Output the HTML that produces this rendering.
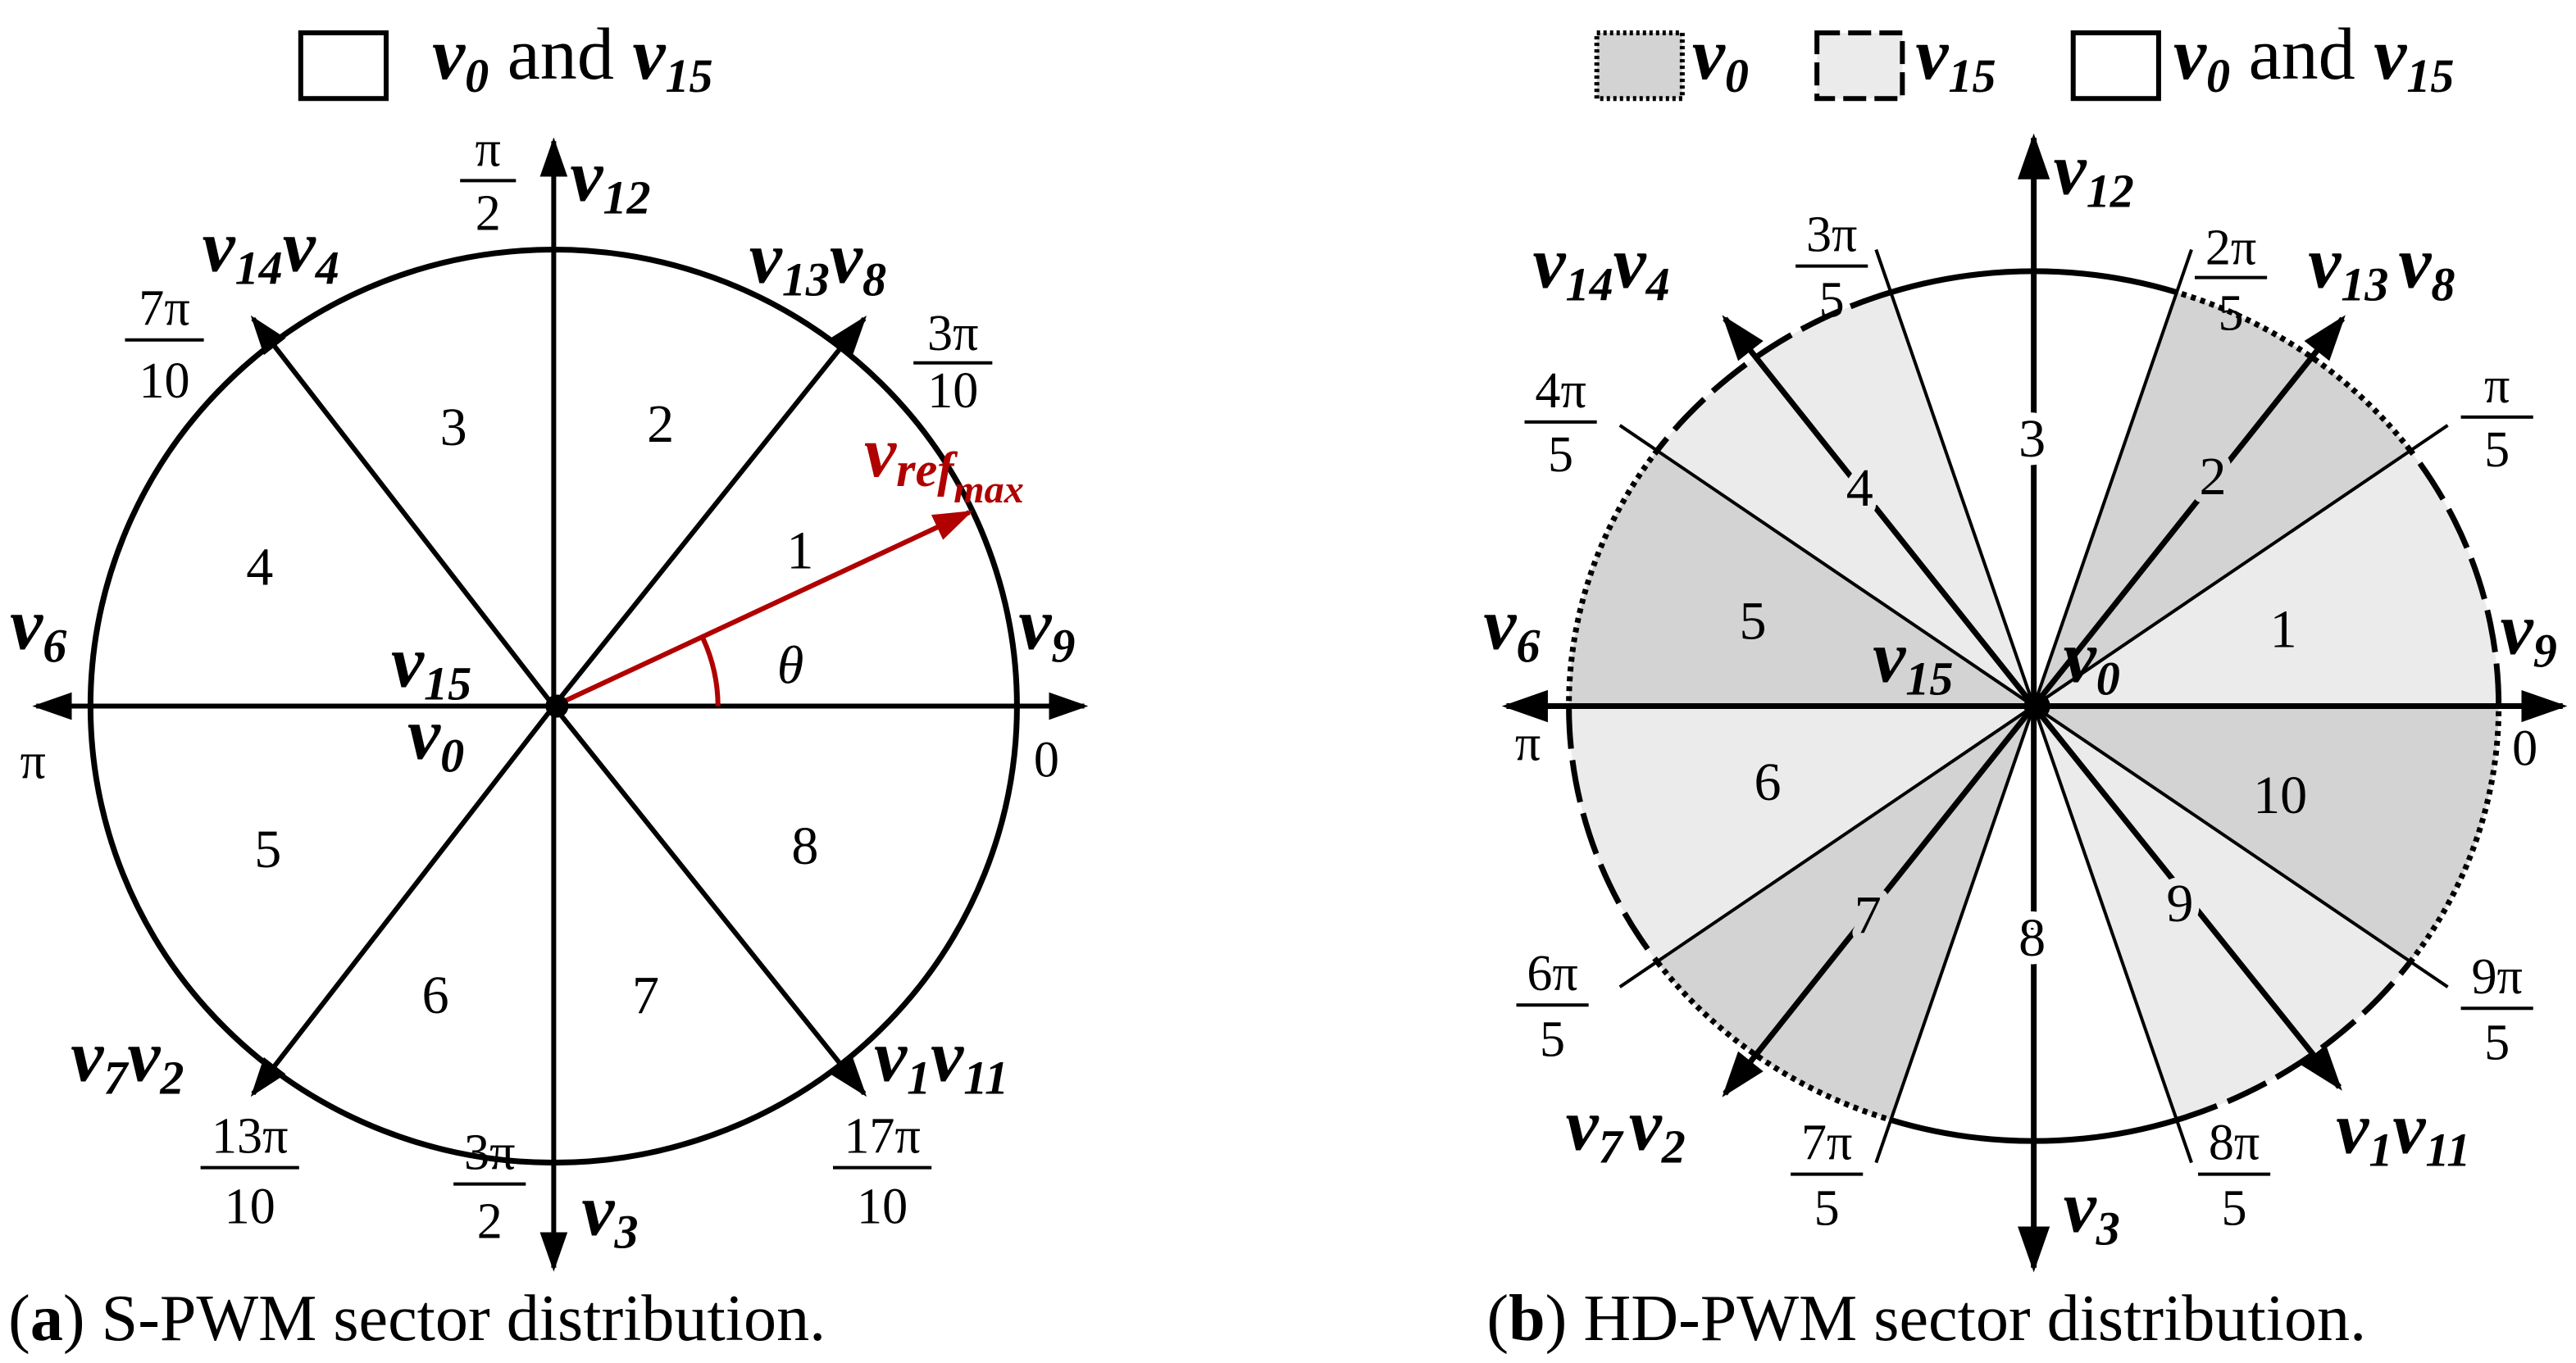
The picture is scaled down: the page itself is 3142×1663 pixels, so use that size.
<!DOCTYPE html>
<html><head><meta charset="utf-8"><style>
html,body{margin:0;padding:0;background:#fff;}
svg{display:block;}
text{font-family:"Liberation Serif",serif;fill:#000;}
.v{font-weight:bold;font-style:italic;font-size:45px;}
.s{font-size:29px;}
.n{font-size:33px;text-anchor:middle;}
.f{font-size:31px;text-anchor:middle;}
.cap{font-size:40px;}
</style></head><body>
<svg width="3142" height="1663" viewBox="0 0 1568 830" xmlns="http://www.w3.org/2000/svg">
<defs>
<marker id="ah" viewBox="0 0 10 10" refX="9" refY="5" markerWidth="8" markerHeight="8" markerUnits="strokeWidth" orient="auto"><path d="M0,1.5 L10,5 L0,8.5 Z" fill="#000"/></marker>
<marker id="ahr" viewBox="0 0 10 10" refX="9" refY="5" markerWidth="9" markerHeight="8" markerUnits="strokeWidth" orient="auto"><path d="M0,1.5 L10,5 L0,8.5 Z" fill="#b00000"/></marker>
</defs>

<rect x="183" y="20" width="52" height="40" fill="#fff" stroke="#000" stroke-width="3"/>
<text x="263" y="48" class="v">v<tspan class="s" dy="8">0</tspan><tspan dy="-8" style="font-weight:normal;font-style:normal"> and </tspan>v<tspan class="s" dy="8">15</tspan></text>

<rect x="972" y="20" width="52" height="40" fill="#d3d3d3" stroke="#000" stroke-width="3" stroke-dasharray="2,2"/>
<text x="1030" y="48" class="v">v<tspan class="s" dy="8">0</tspan></text>
<rect x="1106" y="20" width="52" height="40" fill="#ebebeb" stroke="#000" stroke-width="3" stroke-dasharray="14,5"/>
<text x="1166" y="48" class="v">v<tspan class="s" dy="8">15</tspan></text>
<rect x="1262" y="20" width="52" height="40" fill="#fff" stroke="#000" stroke-width="3"/>
<text x="1323" y="48" class="v">v<tspan class="s" dy="8">0</tspan><tspan dy="-8" style="font-weight:normal;font-style:normal"> and </tspan>v<tspan class="s" dy="8">15</tspan></text>

<!-- LEFT -->
<ellipse cx="337" cy="430" rx="282" ry="278" fill="none" stroke="#000" stroke-width="3.5"/>
<g stroke="#000" stroke-width="3" marker-end="url(#ah)">
<line x1="337" y1="430" x2="22" y2="430"/>
<line x1="337" y1="430" x2="660" y2="430"/>
<line x1="337" y1="430" x2="337" y2="86"/>
<line x1="337" y1="430" x2="337" y2="772"/>
<line x1="337" y1="430" x2="526" y2="194"/>
<line x1="337" y1="430" x2="154" y2="194"/>
<line x1="337" y1="430" x2="154" y2="666"/>
<line x1="337" y1="430" x2="526" y2="666"/>
</g>
<line x1="337" y1="430" x2="590" y2="312" stroke="#b00000" stroke-width="3" marker-end="url(#ahr)"/>
<path d="M437,430 A100,100 0 0 0 428,389" fill="none" stroke="#b00000" stroke-width="3"/>
<circle cx="339" cy="430" r="7" fill="#000"/>
<text class="n" x="276" y="271">3</text>
<text class="n" x="402" y="269">2</text>
<text class="n" x="158" y="356">4</text>
<text class="n" x="487" y="346">1</text>
<text class="n" x="163" y="528">5</text>
<text class="n" x="490" y="526">8</text>
<text class="n" x="265" y="617">6</text>
<text class="n" x="393" y="617">7</text>
<text x="473" y="416" style="font-size:33px;font-style:italic">θ</text>

<text class="f" x="297" y="101">π</text><line x1="280" y1="110" x2="314" y2="110" stroke="#000" stroke-width="2"/><text class="f" x="297" y="140">2</text>
<text class="v" x="347" y="122">v<tspan class="s" dy="8">12</tspan></text>
<text class="v" x="123" y="165">v<tspan class="s" dy="8">14</tspan><tspan dy="-8">v</tspan><tspan class="s" dy="8">4</tspan></text>
<text class="f" x="100" y="198">7π</text><line x1="76" y1="207" x2="124" y2="207" stroke="#000" stroke-width="2"/><text class="f" x="100" y="242">10</text>
<text class="v" x="456" y="172">v<tspan class="s" dy="8">13</tspan><tspan dy="-8">v</tspan><tspan class="s" dy="8">8</tspan></text>
<text class="f" x="580" y="213">3π</text><line x1="556" y1="221" x2="604" y2="221" stroke="#000" stroke-width="2"/><text class="f" x="580" y="248">10</text>
<text x="526" y="290" style="font-size:44px;font-weight:bold;font-style:italic;fill:#b00000">v<tspan style="font-size:30px;fill:#b00000" dy="6">ref</tspan><tspan style="font-size:24px;fill:#b00000" dy="10">max</tspan></text>
<text class="v" x="6" y="395">v<tspan class="s" dy="8">6</tspan></text>
<text class="f" x="20" y="474">π</text>
<text class="v" x="620" y="395">v<tspan class="s" dy="8">9</tspan></text>
<text class="f" x="637" y="473">0</text>
<text class="v" x="238" y="418">v<tspan class="s" dy="8">15</tspan></text>
<text class="v" x="248" y="462">v<tspan class="s" dy="8">0</tspan></text>
<text class="v" x="43" y="658">v<tspan class="s" dy="8">7</tspan><tspan dy="-8">v</tspan><tspan class="s" dy="8">2</tspan></text>
<text class="f" x="152" y="702">13π</text><line x1="122" y1="711" x2="182" y2="711" stroke="#000" stroke-width="2"/><text class="f" x="152" y="745">10</text>
<text class="f" x="298" y="712">3π</text><line x1="276" y1="721" x2="320" y2="721" stroke="#000" stroke-width="2"/><text class="f" x="298" y="754">2</text>
<text class="v" x="354" y="752">v<tspan class="s" dy="8">3</tspan></text>
<text class="v" x="532" y="658">v<tspan class="s" dy="8">1</tspan><tspan dy="-8">v</tspan><tspan class="s" dy="8">11</tspan></text>
<text class="f" x="537" y="702">17π</text><line x1="507" y1="711" x2="567" y2="711" stroke="#000" stroke-width="2"/><text class="f" x="537" y="745">10</text>

<!-- RIGHT -->
<g stroke="none">
<path d="M1238,430 L1521,430 A283,265 0 0 0 1467,274 Z" fill="#ebebeb"/>
<path d="M1238,430 L1467,274 A283,265 0 0 0 1325,178 Z" fill="#d3d3d3"/>
<path d="M1238,430 L1151,178 A283,265 0 0 0 1009,274 Z" fill="#ebebeb"/>
<path d="M1238,430 L1009,274 A283,265 0 0 0 955,430 Z" fill="#d3d3d3"/>
<path d="M1238,430 L955,430 A283,265 0 0 0 1009,586 Z" fill="#ebebeb"/>
<path d="M1238,430 L1009,586 A283,265 0 0 0 1151,682 Z" fill="#d3d3d3"/>
<path d="M1238,430 L1325,682 A283,265 0 0 0 1467,586 Z" fill="#ebebeb"/>
<path d="M1238,430 L1467,586 A283,265 0 0 0 1521,430 Z" fill="#d3d3d3"/>
</g>
<g fill="none" stroke="#000" stroke-width="3.5">
<path d="M1521,430 A283,265 0 0 0 1467,274" stroke-dasharray="26,7"/>
<path d="M1467,274 A283,265 0 0 0 1325,178" stroke-dasharray="3,3"/>
<path d="M1325,178 A283,265 0 0 0 1151,178"/>
<path d="M1151,178 A283,265 0 0 0 1009,274" stroke-dasharray="26,7"/>
<path d="M1009,274 A283,265 0 0 0 955,430" stroke-dasharray="3,3"/>
<path d="M955,430 A283,265 0 0 0 1009,586" stroke-dasharray="26,7"/>
<path d="M1009,586 A283,265 0 0 0 1151,682" stroke-dasharray="3,3"/>
<path d="M1151,682 A283,265 0 0 0 1325,682"/>
<path d="M1325,682 A283,265 0 0 0 1467,586" stroke-dasharray="26,7"/>
<path d="M1467,586 A283,265 0 0 0 1521,430" stroke-dasharray="3,3"/>
</g>
<g stroke="#000" stroke-width="2">
<line x1="1238" y1="430" x2="1490" y2="259"/>
<line x1="1238" y1="430" x2="1334" y2="152"/>
<line x1="1238" y1="430" x2="1142" y2="152"/>
<line x1="1238" y1="430" x2="986" y2="259"/>
<line x1="1238" y1="430" x2="986" y2="601"/>
<line x1="1238" y1="430" x2="1142" y2="708"/>
<line x1="1238" y1="430" x2="1334" y2="708"/>
<line x1="1238" y1="430" x2="1490" y2="601"/>
</g>
<g stroke="#000" stroke-width="3.5" marker-end="url(#ah)">
<line x1="1238" y1="430" x2="917" y2="430"/>
<line x1="1238" y1="430" x2="1560" y2="430"/>
<line x1="1238" y1="430" x2="1238" y2="84"/>
<line x1="1238" y1="430" x2="1238" y2="772"/>
<line x1="1238" y1="430" x2="1426" y2="194"/>
<line x1="1238" y1="430" x2="1050" y2="194"/>
<line x1="1238" y1="430" x2="1050" y2="666"/>
<line x1="1238" y1="430" x2="1424" y2="662"/>
</g>
<circle cx="1240" cy="430" r="8" fill="#000"/>
<g style="paint-order:stroke;stroke-width:10px;stroke-linejoin:round">
<text class="n" x="1237" y="278" style="stroke:#fff">3</text>
<text class="n" x="1347" y="301" style="stroke:#d3d3d3">2</text>
<text class="n" x="1132" y="308" style="stroke:#ebebeb">4</text>
<text class="n" x="1390" y="394" style="stroke:#ebebeb">1</text>
<text class="n" x="1067" y="389" style="stroke:#d3d3d3">5</text>
<text class="n" x="1076" y="487" style="stroke:#ebebeb">6</text>
<text class="n" x="1388" y="495" style="stroke:#d3d3d3">10</text>
<text class="n" x="1327" y="561" style="stroke:#ebebeb">9</text>
<text class="n" x="1137" y="568" style="stroke:#d3d3d3">7</text>
<text class="n" x="1237" y="582" style="stroke:#fff">8</text>
</g>
<text class="v" x="1250" y="118">v<tspan class="s" dy="8">12</tspan></text>
<text class="f" x="1115" y="153">3π</text><line x1="1093" y1="162" x2="1137" y2="162" stroke="#000" stroke-width="2"/><text class="f" x="1115" y="193">5</text>
<text class="f" x="1358" y="161">2π</text><line x1="1336" y1="169" x2="1380" y2="169" stroke="#000" stroke-width="2"/><text class="f" x="1358" y="201">5</text>
<text class="v" x="933" y="175">v<tspan class="s" dy="8">14</tspan><tspan dy="-8">v</tspan><tspan class="s" dy="8">4</tspan></text>
<text class="v" x="1405" y="175">v<tspan class="s" dy="8">13</tspan><tspan dx="6" dy="-8">v</tspan><tspan class="s" dy="8">8</tspan></text>
<text class="f" x="950" y="248">4π</text><line x1="928" y1="257" x2="972" y2="257" stroke="#000" stroke-width="2"/><text class="f" x="950" y="287">5</text>
<text class="f" x="1520" y="245">π</text><line x1="1498" y1="254" x2="1542" y2="254" stroke="#000" stroke-width="2"/><text class="f" x="1520" y="284">5</text>
<text class="v" x="903" y="395">v<tspan class="s" dy="8">6</tspan></text>
<text class="f" x="930" y="463">π</text>
<text class="v" x="1522" y="398">v<tspan class="s" dy="8">9</tspan></text>
<text class="f" x="1537" y="466">0</text>
<text class="v" x="1140" y="415">v<tspan class="s" dy="8">15</tspan></text>
<text class="v" x="1256" y="415">v<tspan class="s" dy="8">0</tspan></text>
<text class="f" x="945" y="603">6π</text><line x1="923" y1="612" x2="967" y2="612" stroke="#000" stroke-width="2"/><text class="f" x="945" y="643">5</text>
<text class="f" x="1520" y="605">9π</text><line x1="1498" y1="614" x2="1542" y2="614" stroke="#000" stroke-width="2"/><text class="f" x="1520" y="645">5</text>
<text class="v" x="953" y="700">v<tspan class="s" dy="8">7</tspan><tspan dx="4" dy="-8">v</tspan><tspan class="s" dy="8">2</tspan></text>
<text class="f" x="1112" y="706">7π</text><line x1="1090" y1="715" x2="1134" y2="715" stroke="#000" stroke-width="2"/><text class="f" x="1112" y="746">5</text>
<text class="f" x="1360" y="706">8π</text><line x1="1338" y1="715" x2="1382" y2="715" stroke="#000" stroke-width="2"/><text class="f" x="1360" y="746">5</text>
<text class="v" x="1256" y="750">v<tspan class="s" dy="8">3</tspan></text>
<text class="v" x="1422" y="702">v<tspan class="s" dy="8">1</tspan><tspan dy="-8">v</tspan><tspan class="s" dy="8">11</tspan></text>

<text class="cap" x="5" y="816">(<tspan font-weight="bold">a</tspan>) S-PWM sector distribution.</text>
<text class="cap" x="905" y="816">(<tspan font-weight="bold">b</tspan>) HD-PWM sector distribution.</text>
</svg>
</body></html>
